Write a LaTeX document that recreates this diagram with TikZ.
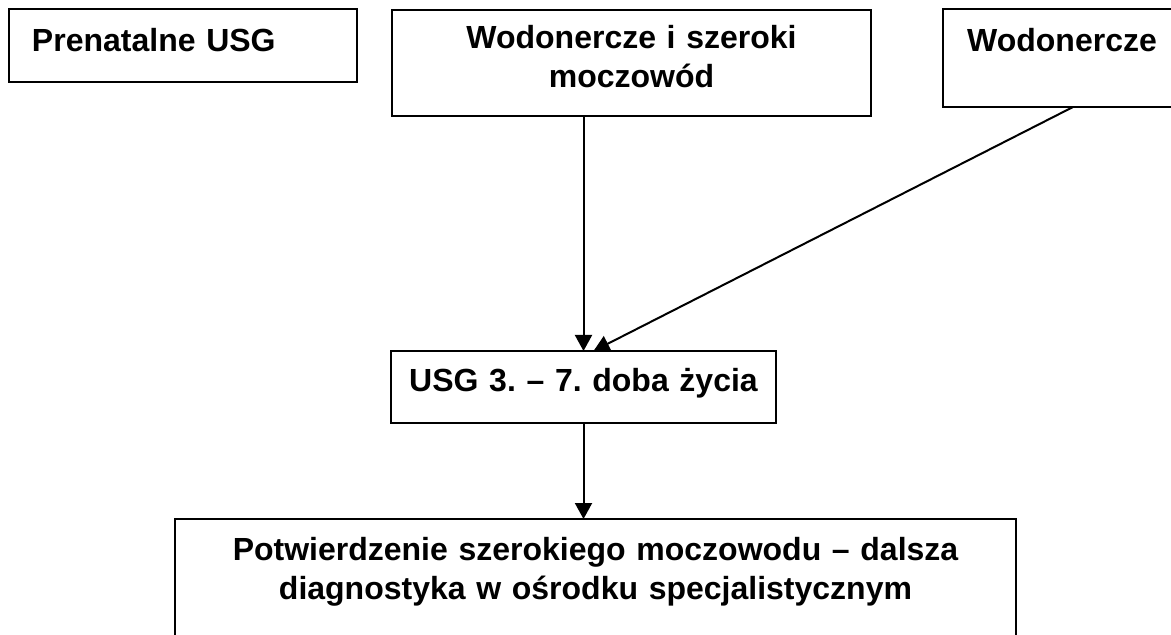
\documentclass[tikz,border=0pt]{standalone}
\usepackage{fontspec}
\setmainfont{Liberation Sans}
\usetikzlibrary{arrows.meta,calc}
\frenchspacing

\begin{document}
\begin{tikzpicture}[x=0.5pt, y=-0.5pt,
    box/.style={rectangle, draw, line width=0.9pt, inner sep=0pt, outer sep=0pt, anchor=north west, align=center, font=\fontsize{16pt}{19.5pt}\selectfont\bfseries},
    arrow/.style={-{Triangle[length=8pt, width=8.5pt]}, line width=1pt}]

    \useasboundingbox (0,0) rectangle (1171,635);

    % Prenatal findings
    \node[box, align=left, inner xsep=11.5pt, text width=151pt, text height=21.5pt, text depth=15pt] (prenatal) at (9,9) {Prenatalne USG};
    \node[box, text width=239.5pt, text height=19.5pt, text depth=33.5pt] (wide) at (392,10) {Wodonercze i szeroki\\moczowód};
    \node[box, text width=119pt, text height=21.5pt, text depth=27.5pt] (hydro) at (943,9) {Wodonercze};

    % After birth
    \node[box, text width=192.5pt, text height=20.5pt, text depth=15.5pt] (usg) at (391,351) {USG 3. – 7. doba życia};
    \node[box, text width=420.5pt, text height=20.5pt, text depth=50pt] (confirm) at (175,519) {Potwierdzenie szerokiego moczowodu – dalsza\\diagnostyka w ośrodku specjalistycznym};

    % Arrows
    \draw[arrow] (wide.south -| usg.north) -- (usg.north);
    \draw[arrow] ($(hydro.south west)+(130,0)$) -- ($(usg.north)+(10,0)$);
    \draw[arrow] (usg.south) -- (usg.south |- confirm.north);
\end{tikzpicture}
\end{document}
